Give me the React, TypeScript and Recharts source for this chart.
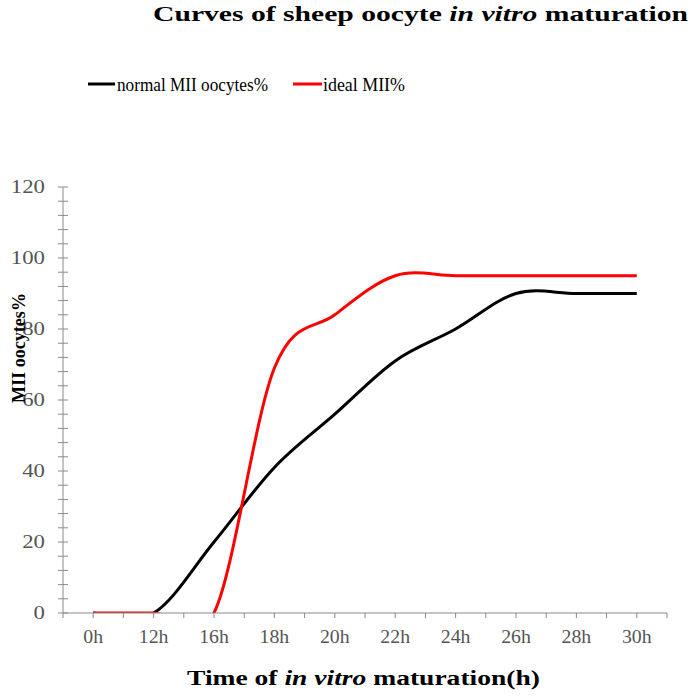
import React from "react";
import { Legend, Line, LineChart, XAxis, YAxis } from "recharts";

const CATEGORIES = ["0h", "12h", "16h", "18h", "20h", "22h", "24h", "26h", "28h", "30h"];
const NORMAL_MII = [0, 0, 20, 41, 56, 71, 80, 90, 90, 90];
const IDEAL_MII = [0, 0, 0, 69, 84, 95, 95, 95, 95, 95];
const Y_TICKS = [
  0, 4, 8, 12, 16, 20, 24, 28, 32, 36, 40, 44, 48, 52, 56, 60, 64, 68, 72, 76, 80, 84, 88, 92, 96, 100, 104,
  108, 112, 116, 120,
];
const Y_LABELS = [0, 20, 40, 60, 80, 100, 120];
const SERIES_NAMES = ["normal MII oocytes%", "ideal MII%"];

const FONT = "'Liberation Serif', 'Times New Roman', serif";
const AXIS_GREY = "#8a8a8a";
const TICK_TEXT = "#555555";

// x 轴用数值索引，刻度放在类别中心和类别边界
const chartData = CATEGORIES.map((label, i) => ({
  idx: i,
  label,
  normal: NORMAL_MII[i],
  ideal: IDEAL_MII[i],
}));
const xTicks = CATEGORIES.flatMap((_, i) => [i - 0.5, i]).concat(CATEGORIES.length - 0.5);

// Excel 风格的平滑曲线（Catmull-Rom 转 Bezier）
function excelCurve(context: any) {
  let pts: [number, number][] = [];
  return {
    areaStart() {},
    areaEnd() {},
    lineStart() {
      pts = [];
    },
    point(x: number, y: number) {
      pts.push([+x, +y]);
    },
    lineEnd() {
      const n = pts.length;
      if (!n) return;
      context.moveTo(pts[0][0], pts[0][1]);
      for (let i = 0; i < n - 1; i++) {
        const p0 = pts[Math.max(i - 1, 0)];
        const p1 = pts[i];
        const p2 = pts[i + 1];
        const p3 = pts[Math.min(i + 2, n - 1)];
        context.bezierCurveTo(
          p1[0] + (p2[0] - p0[0]) / 6,
          p1[1] + (p2[1] - p0[1]) / 6,
          p2[0] - (p3[0] - p1[0]) / 6,
          p2[1] - (p3[1] - p1[1]) / 6,
          p2[0],
          p2[1]
        );
      }
    },
  };
}

function YTick({ x, y, payload }: any) {
  const v = payload.value as number;
  return (
    <g>
      <line x1={x - 5} x2={x + 5} y1={y} y2={y} stroke={AXIS_GREY} />
      {Y_LABELS.includes(v) && (
        <text
          transform={`translate(${x - 18} ${y + 6}) scale(1.2 1)`}
          textAnchor="end"
          fontFamily={FONT}
          fontSize={19}
          fill={TICK_TEXT}
        >
          {v}
        </text>
      )}
    </g>
  );
}

function XTick({ x, y, payload }: any) {
  const v = payload.value as number;
  const label = Number.isInteger(v) ? CATEGORIES[v] : "";
  return (
    <g>
      <line x1={x} x2={x} y1={y} y2={y + 5} stroke={AXIS_GREY} />
      {label && (
        <text
          transform={`translate(${x} ${y + 30}) scale(1.1 1)`}
          textAnchor="middle"
          fontFamily={FONT}
          fontSize={18}
          fill={TICK_TEXT}
        >
          {label}
        </text>
      )}
    </g>
  );
}

function LegendBox() {
  return (
    <svg width={692} height={100}>
      <line x1={88} x2={115} y1={84} y2={84} stroke="#000000" strokeWidth={3} />
      <text x={117} y={91} fontFamily={FONT} fontSize={19} textLength={151} lengthAdjust="spacingAndGlyphs">
        {SERIES_NAMES[0]}
      </text>
      <line x1={293} x2={322} y1={84} y2={84} stroke="#ff0000" strokeWidth={3} />
      <text x={323} y={91} fontFamily={FONT} fontSize={19} textLength={82} lengthAdjust="spacingAndGlyphs">
        {SERIES_NAMES[1]}
      </text>
    </svg>
  );
}

export default function App() {
  return (
    <div style={{ position: "absolute", left: 0, top: 0, width: 692, height: 696, background: "#fff" }}>
      <LineChart width={692} height={696} data={chartData} margin={{ top: 187, right: 25, bottom: 43, left: 8 }}>
        <XAxis
          type="number"
          dataKey="idx"
          domain={[-0.5, CATEGORIES.length - 0.5]}
          ticks={xTicks}
          interval={0}
          height={40}
          tickSize={0}
          tickMargin={0}
          tickLine={false}
          axisLine={{ stroke: AXIS_GREY }}
          tick={<XTick />}
        />
        <YAxis
          domain={[0, 120]}
          ticks={Y_TICKS}
          interval={0}
          width={55}
          allowDataOverflow
          tickSize={0}
          tickMargin={0}
          tickLine={false}
          axisLine={{ stroke: AXIS_GREY }}
          tick={<YTick />}
        />
        <Legend
          layout="horizontal"
          verticalAlign="middle"
          align="center"
          wrapperStyle={{ top: 0, left: 0, width: 692, height: 100 }}
          content={() => <LegendBox />}
        />
        <Line
          dataKey="normal"
          name={SERIES_NAMES[0]}
          type={excelCurve as any}
          stroke="#000000"
          strokeWidth={3}
          dot={false}
          activeDot={false}
          isAnimationActive={false}
        />
        <Line
          dataKey="ideal"
          name={SERIES_NAMES[1]}
          type={excelCurve as any}
          stroke="#ff0000"
          strokeWidth={3}
          dot={false}
          activeDot={false}
          isAnimationActive={false}
        />
      </LineChart>
      <svg
        width={692}
        height={696}
        style={{ position: "absolute", left: 0, top: 0, pointerEvents: "none" }}
      >
        <text
          x={153}
          y={21}
          fontFamily={FONT}
          fontSize={22}
          fontWeight="bold"
          textLength={535}
          lengthAdjust="spacingAndGlyphs"
        >
          Curves of sheep oocyte <tspan fontStyle="italic">in vitro</tspan> maturation
        </text>
        <text
          transform="translate(25 348) rotate(-90)"
          textAnchor="middle"
          fontFamily={FONT}
          fontSize={19}
          fontWeight="bold"
          textLength={110}
          lengthAdjust="spacingAndGlyphs"
        >
          MII oocytes%
        </text>
        <text
          x={187}
          y={685}
          fontFamily={FONT}
          fontSize={20}
          fontWeight="bold"
          textLength={353}
          lengthAdjust="spacingAndGlyphs"
        >
          Time of <tspan fontStyle="italic">in vitro</tspan> maturation(h)
        </text>
      </svg>
    </div>
  );
}
